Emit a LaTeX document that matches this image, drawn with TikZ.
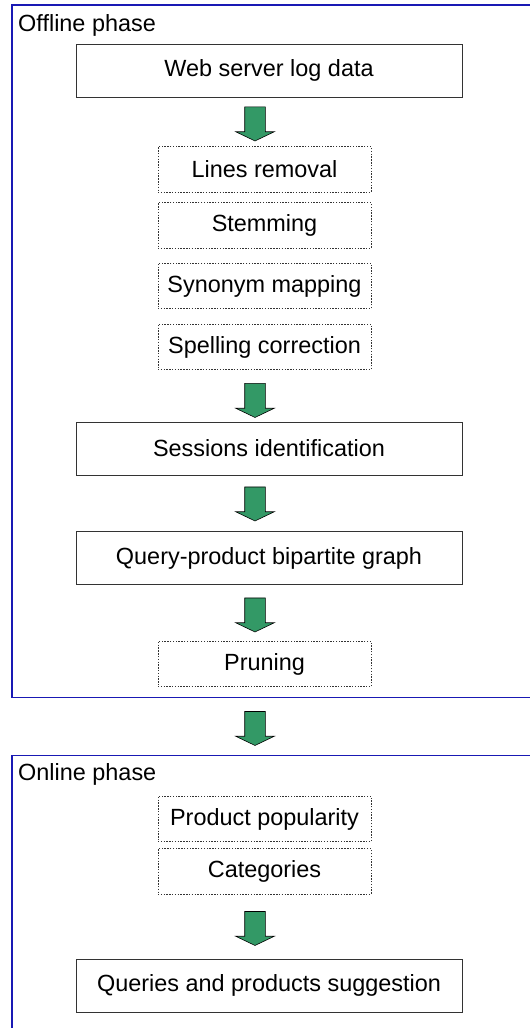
\documentclass[tikz,border=0pt]{standalone}
\usepackage{fontspec}
\setmainfont{Liberation Sans}
\usetikzlibrary{arrows.meta,shapes.arrows}

\definecolor{flowgreen}{RGB}{51,153,102}
\definecolor{phaseblue}{RGB}{25,25,180}

\begin{document}
\begin{tikzpicture}[
    font=\fontsize{20}{24}\selectfont,
    phase/.style={draw=phaseblue, line width=0.9pt, inner sep=0pt},
    title/.style={anchor=base west, inner sep=0pt},
    block/.style={draw=black!80, line width=0.6pt, minimum width=11.58cm, minimum height=1.59cm, inner sep=0pt},
    substep/.style={draw=black!80, line width=0.6pt, dash pattern=on 1.2pt off 1.2pt, minimum width=6.39cm, minimum height=1.37cm, inner sep=0pt},
    flow/.style={single arrow, rotate=-90, draw=black, line width=0.5pt, fill=flowgreen, minimum height=1.02cm, minimum width=1.14cm, inner xsep=0pt, inner ysep=0.3cm, single arrow head extend=0.27cm, single arrow tip angle=129}
  ]
    \useasboundingbox (0,0) rectangle (15.87,-30.84);
    % the two phases
    \node[phase, minimum width=15.84cm, minimum height=20.775cm] (offline) at (8.28,-10.5375) {};
    \node[phase, minimum width=15.84cm, minimum height=8.53cm] (online) at (8.28,-26.935) {};
    \node[title] (offtitle) at (0.54,-0.96) {Offline phase};
    \node[title] (ontitle) at (0.54,-23.42) {Online phase};
    % offline steps
    \node[block] (logs) at (8.07,-2.115) {Web server log data};
    \node[substep] (lines) at (7.935,-5.085) {Lines removal};
    \node[substep] (stem) at (7.935,-6.765) {Stemming};
    \node[substep] (synonym) at (7.935,-8.58) {Synonym mapping};
    \node[substep] (spelling) at (7.935,-10.41) {Spelling correction};
    \node[block] (sessions) at (8.07,-13.455) {Sessions identification};
    \node[block] (bipartite) at (8.07,-16.74) {Query-product bipartite graph};
    \node[substep] (pruning) at (7.935,-19.92) {Pruning};
    % online steps
    \node[substep] (popularity) at (7.935,-24.57) {Product popularity};
    \node[substep] (categories) at (7.935,-26.145) {Categories};
    \node[block] (suggest) at (8.07,-29.565) {Queries and products suggestion};
    % block arrows
    \node[flow] (a1) at (7.65,-3.645) {};
    \node[flow] (a2) at (7.65,-11.94) {};
    \node[flow] (a3) at (7.65,-15.045) {};
    \node[flow] (a4) at (7.65,-18.375) {};
    \node[flow] (a5) at (7.65,-21.78) {};
    \node[flow] (a6) at (7.65,-27.78) {};
  \end{tikzpicture}
\end{document}
